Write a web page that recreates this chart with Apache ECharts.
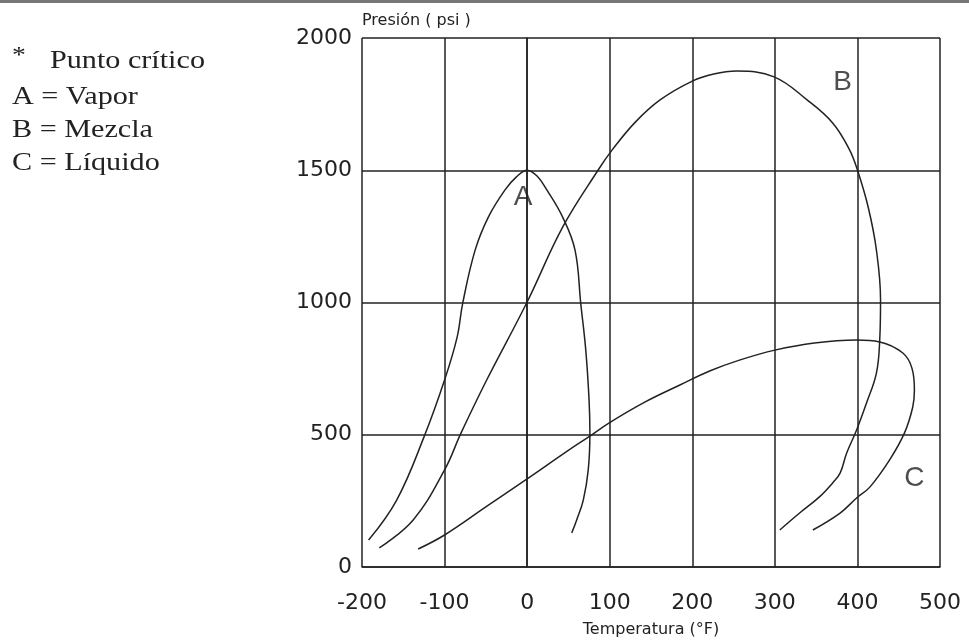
<!DOCTYPE html>
<html lang="es">

<head>
  <meta charset="UTF-8">
  <title>Diagrama de fases</title>
  <script src="https://cdn.jsdelivr.net/npm/echarts@6/dist/echarts.min.js"></script>
</head>

<body style="margin:0;background:#fff">
  <div id="chart" style="width: 969px;height: 640px;"></div>
  <script>
    // ejes
    const xTicks = [-200, -100, 0, 100, 200, 300, 400, 500]
    const yTicks = [0, 500, 1000, 1500, 2000]

    // curva A (Vapor)
    const vaporT = [-192, -158, -125, -100, -85, -78, -63, -47, -27, -13, 0, 12, 24, 43, 58, 65, 71, 75, 76, 74, 68, 60, 54]
    const vaporP = [102, 253, 491, 707, 866, 998, 1198, 1323, 1425, 1475, 1500, 1478, 1425, 1323, 1198, 994, 820, 631, 507, 367, 253, 178, 129]

    // curva B (Mezcla)
    const mezclaT = [-179, -138, -100, -80, -49, 0, 43, 86, 103, 131, 161, 200, 226, 254, 299, 339, 370, 390, 400, 413, 423, 428, 427, 423, 411, 399, 387, 379, 370, 354, 330, 306]
    const mezclaP = [72, 178, 367, 507, 707, 1002, 1285, 1501, 1577, 1682, 1766, 1837, 1864, 1875, 1853, 1766, 1679, 1580, 1501, 1361, 1198, 1009, 858, 733, 620, 518, 431, 355, 318, 265, 204, 140]

    // curva C (Líquido)
    const liquidoT = [-132, -100, -50, 0, 49, 76, 99, 143, 185, 221, 258, 300, 348, 399, 427, 455, 466, 469, 467, 457, 439, 415, 399, 379, 346]
    const liquidoP = [68, 121, 227, 333, 439, 495, 544, 624, 688, 741, 783, 820, 847, 858, 851, 809, 752, 669, 605, 507, 405, 302, 261, 204, 140]

    // etiquetas de zona
    const zoneNames = ['A', 'B', 'C']
    const zoneT = [-5, 382, 469]
    const zoneP = [1399, 1834, 336]

    const legendLines = ['A = Vapor', 'B = Mezcla', 'C = Líquido']

    const zip = (xs, ys) => xs.map((x, i) => [x, ys[i]])

    const ink = '#222'
    const curve = (name, data) => ({
      name,
      type: 'line',
      data,
      smooth: 0.4,
      showSymbol: false,
      silent: true,
      lineStyle: { color: ink, width: 1.5 }
    })

    const myChart = echarts.init(document.getElementById('chart'))

    const serif = '26px "Liberation Serif"'
    const option = {
      backgroundColor: '#fff',
      animation: false,
      grid: { left: 362, right: 29, top: 38, bottom: 73, outerBoundsMode: 'none' },
      xAxis: {
        type: 'value',
        min: xTicks[0],
        max: xTicks[xTicks.length - 1],
        interval: 100,
        name: 'Temperatura (°F)',
        nameLocation: 'middle',
        nameGap: 55,
        nameTextStyle: { fontFamily: 'DejaVu Sans', fontSize: 16, color: ink },
        axisLine: { lineStyle: { color: ink, width: 1.5 } },
        axisTick: { show: false },
        axisLabel: { margin: 25, fontFamily: 'DejaVu Sans', fontSize: 22, color: ink },
        splitLine: { lineStyle: { color: ink, width: 1.5 } }
      },
      yAxis: {
        type: 'value',
        min: yTicks[0],
        max: yTicks[yTicks.length - 1],
        interval: 500,
        axisLine: { lineStyle: { color: ink, width: 1.5 } },
        axisTick: { show: false },
        axisLabel: { margin: 10, fontFamily: 'DejaVu Sans', fontSize: 22, color: ink, formatter: v => String(v) },
        splitLine: { lineStyle: { color: ink, width: 1.5 } }
      },
      series: [
        curve('Vapor', zip(vaporT, vaporP)),
        curve('Mezcla', zip(mezclaT, mezclaP)),
        curve('Líquido', zip(liquidoT, liquidoP)),
        {
          type: 'scatter',
          silent: true,
          symbolSize: 0,
          data: zoneNames.map((n, i) => ({ name: n, value: [zoneT[i], zoneP[i]] })),
          label: {
            show: true,
            position: 'inside',
            formatter: '{b}',
            fontFamily: 'Liberation Sans',
            fontSize: 28,
            color: ink,
            textBorderWidth: 0
          }
        }
      ],
      graphic: [
        // franja gris del escaneo arriba
        { type: 'rect', x: 0, y: 0, shape: { width: 969, height: 3 }, style: { fill: '#777' } },
        // nombre del eje Y
        { type: 'text', x: 362, y: 21, style: { text: 'Presión ( psi )', font: '16px "DejaVu Sans"', fill: ink, verticalAlign: 'middle' } },
        { type: 'text', x: 12, y: 56, scaleX: 1.15, style: { text: '*', font: '24px "Liberation Serif"', fill: ink, verticalAlign: 'middle' } },
        { type: 'text', x: 50, y: 61, scaleX: 1.16, style: { text: 'Punto crítico', font: serif, fill: ink, verticalAlign: 'middle' } },
        ...legendLines.map((t, i) => ({
          type: 'text',
          x: 12,
          y: 97 + i * 33,
          scaleX: 1.16,
          style: { text: t, font: serif, fill: ink, verticalAlign: 'middle' }
        }))
      ]
    }

    myChart.setOption(option)
  </script>
</body>

</html>
